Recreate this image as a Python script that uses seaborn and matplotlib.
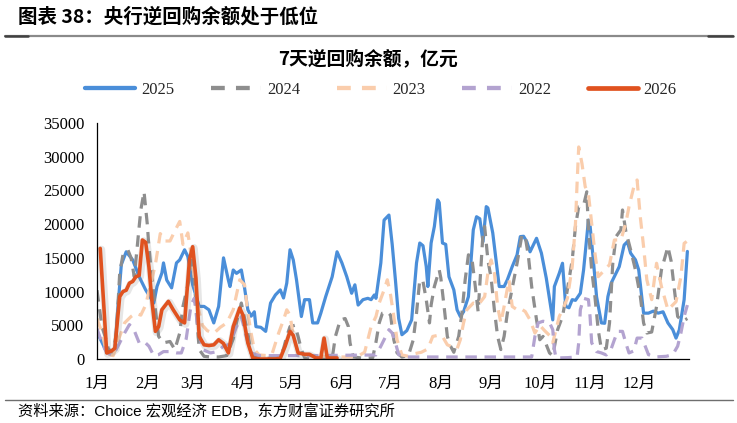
import numpy as np
import pandas as pd
import matplotlib
matplotlib.use("Agg")
import matplotlib.pyplot as plt
import matplotlib.patheffects as pe
from matplotlib.lines import Line2D
import seaborn as sns

sns.set_theme(style="white")
plt.rcParams['font.family'] = ['Liberation Serif', 'Noto Sans CJK SC', 'DejaVu Sans']

# ---------------- data (day of year, value in 亿元) ----------------
day_2025 = [0, 2, 5, 8, 11, 13, 15, 18, 22, 26, 30, 35, 37, 40, 41, 43, 46, 49, 51, 54, 56, 59, 63, 66, 69, 72,
            75, 78, 81, 82, 84, 86, 89, 91, 93, 95, 97, 98, 101, 104, 107, 110, 113, 115, 117, 119, 121, 123, 126,
            128, 131, 133, 136, 138, 141, 145, 148, 151, 154, 157, 159, 161, 164, 167, 169, 171, 172, 175, 177, 180,
            182, 184, 186, 188, 191, 194, 197, 199, 201, 203, 204, 206, 208, 210, 211, 213, 215, 217, 220, 222, 224,
            226, 229, 232, 234, 236, 238, 240, 241, 244, 246, 248, 251, 253, 256, 259, 261, 263, 265, 267, 271, 274,
            277, 281, 282, 285, 287, 289, 291, 293, 295, 298, 300, 303, 304, 306, 308, 311, 313, 315, 317, 320, 322,
            325, 327, 329, 332, 334, 337, 340, 343, 346, 349, 352, 355, 357, 359, 362, 364]
val_2025 = [4000, 3000, 1500, 900, 1200, 8000, 14000, 15900, 14700, 12200, 10250, 8300, 10750, 12750, 14250, 11700,
            10550, 14250, 14700, 16200, 15200, 11000, 7800, 7800, 7300, 5350, 7800, 15000, 11700, 10750, 13200, 12700,
            13200, 10500, 7300, 6350, 7000, 4800, 4700, 4100, 8300, 9500, 10250, 9050, 11250, 16200, 14700, 11750,
            6300, 8800, 8800, 5350, 5350, 6800, 9250, 12200, 15900, 14250, 12200, 9750, 11000, 8000, 8800, 9000, 8800,
            9500, 9000, 14250, 20600, 21350, 17000, 11700, 6000, 3600, 4200, 5800, 14250, 17200, 16800, 13700, 10750,
            17200, 19650, 23600, 23200, 17200, 17000, 12200, 10250, 7300, 6300, 7000, 9250, 19150, 21100, 20800, 17400,
            22600, 22400, 18700, 14700, 10750, 10750, 11750, 13700, 15450, 18150, 18200, 17400, 15900, 17900, 15700,
            12000, 5800, 10750, 12700, 14200, 7800, 7600, 8800, 8700, 9750, 13200, 20600, 19800, 14700, 9250, 5350,
            5300, 9250, 11250, 12700, 13700, 16900, 17400, 15700, 14700, 13200, 6800, 6800, 7100, 6800, 7000, 5350,
            4350, 3100, 4300, 8800, 15950]

day_2024 = [0, 3, 5, 7, 10, 12, 14, 16, 19, 21, 23, 25, 27, 29, 31, 32, 34, 36, 38, 41, 45, 48, 51, 53, 57, 59, 61,
            63, 66, 70, 75, 80, 84, 86, 89, 91, 93, 95, 98, 105, 112, 115, 117, 119, 122, 124, 126, 128, 135, 145,
            147, 150, 153, 155, 156, 158, 165, 170, 172, 174, 176, 179, 181, 183, 185, 188, 192, 195, 197, 199, 201,
            203, 205, 206, 208, 211, 212, 214, 216, 218, 220, 223, 225, 227, 229, 231, 233, 235, 238, 239, 241, 243,
            245, 247, 249, 251, 253, 256, 259, 262, 264, 266, 268, 271, 273, 275, 279, 281, 284, 287, 290, 293, 295,
            297, 300, 302, 303, 305, 307, 309, 311, 314, 316, 318, 320, 323, 324, 326, 329, 332, 335, 337, 339, 342,
            345, 348, 352, 354, 356, 358, 361, 364]
val_2024 = [10200, 4800, 3350, 1500, 900, 4000, 12750, 15450, 16200, 15000, 12200, 17150, 22100, 24800, 20000, 16650,
            11750, 7300, 3350, 2400, 2600, 1400, 3850, 7800, 12000, 15700, 8000, 1400, 400, 300, 300, 500, 3000, 5400,
            8300, 6000, 3850, 900, 200, 100, 100, 1500, 3350, 4800, 5000, 3350, 1400, 200, 100, 100, 3350, 5800, 6000,
            4800, 2400, 300, 100, 200, 2500, 5350, 6800, 7000, 6500, 2850, 900, 300, 500, 2850, 6800, 11750, 11500,
            8800, 5350, 8000, 10750, 13200, 12000, 7800, 3350, 1900, 1000, 3350, 6800, 11750, 15450, 15200, 11250,
            7000, 18650, 19650, 14700, 12000, 7300, 3350, 1400, 3350, 6800, 10500, 14200, 18400, 18200, 15200, 10750,
            5800, 2850, 3350, 900, 500, 4350, 6300, 10250, 14700, 19650, 22600, 22800, 24800, 19150, 13200, 9250, 4350,
            1400, 1600, 5350, 14200, 18150, 19150, 22100, 19000, 16200, 13200, 9250, 5350, 3850, 4000, 7800, 13200,
            16650, 14500, 10250, 6300, 5600, 6000]

day_2023 = [0, 3, 6, 10, 14, 17, 21, 24, 27, 30, 33, 36, 39, 42, 45, 48, 51, 53, 56, 59, 62, 65, 68, 72, 76, 80, 84,
            88, 91, 93, 95, 97, 100, 105, 108, 112, 115, 117, 119, 121, 124, 130, 140, 150, 160, 165, 169, 172, 174,
            177, 179, 181, 183, 185, 188, 192, 196, 200, 204, 207, 210, 213, 216, 219, 222, 224, 226, 228, 232, 235,
            239, 241, 243, 245, 247, 249, 251, 254, 256, 259, 261, 264, 267, 270, 273, 276, 279, 281, 283, 285, 288,
            290, 293, 295, 296, 297, 299, 301, 303, 305, 307, 309, 313, 316, 319, 323, 326, 328, 331, 333, 335, 337,
            339, 342, 345, 348, 352, 357, 360, 362, 364]
val_2023 = [6000, 4000, 800, 500, 3350, 5350, 6300, 6800, 6500, 8000, 11000, 14000, 18600, 17500, 17500, 19000, 20400,
            17000, 18700, 14000, 8000, 5000, 4200, 3800, 4700, 5350, 7300, 11750, 11000, 6800, 3850, 1400, 600, 500,
            800, 3850, 5800, 7300, 6500, 3500, 900, 500, 400, 300, 300, 1000, 4800, 6300, 8300, 10250, 11750, 9500,
            6300, 2850, 600, 400, 800, 1000, 1500, 3350, 3500, 3350, 2100, 1800, 1500, 2850, 5350, 7300, 8300, 8000,
            9250, 12750, 14700, 12750, 7800, 5350, 7800, 11750, 7800, 7300, 7500, 7050, 5800, 3850, 5000, 4200, 3500,
            2400, 4350, 6300, 7800, 9000, 13700, 20100, 26050, 31450, 29000, 25550, 24500, 20100, 15700, 12200, 13200,
            14000, 17650, 17650, 20100, 22600, 25550, 26550, 21000, 16650, 11750, 8800, 14200, 10750, 7300, 8500,
            12200, 17150, 17500]

day_2022 = [0, 3, 6, 10, 14, 17, 20, 23, 26, 29, 32, 35, 38, 41, 45, 49, 52, 55, 58, 60, 62, 65, 70, 74, 78, 82, 86,
            89, 90, 92, 95, 100, 130, 172, 175, 178, 180, 182, 184, 186, 190, 230, 268, 270, 272, 275, 279, 281, 282,
            283, 290, 296, 297, 298, 300, 303, 304, 305, 308, 311, 314, 317, 319, 321, 324, 326, 328, 331, 333, 336,
            338, 340, 344, 351, 355, 358, 360, 362, 364]
val_2022 = [4500, 2400, 900, 600, 2400, 3850, 5100, 4200, 2400, 2600, 1900, 500, 650, 1100, 1100, 900, 900, 3000, 8000,
            9000, 5000, 1400, 900, 1100, 1900, 2200, 4800, 6300, 5350, 3350, 900, 500, 500, 600, 1900, 3350, 4350, 3850,
            2400, 650, 300, 300, 300, 3350, 5350, 5600, 5400, 4350, 1400, 150, 200, 300, 2400, 7300, 9000, 8800, 6300,
            2400, 1100, 900, 600, 1500, 2850, 4100, 4100, 2400, 900, 1200, 3100, 3100, 1900, 650, 300, 400, 650, 1900,
            3850, 6300, 8000]

day_2026 = [2, 6, 9, 11, 14, 16, 18, 20, 22, 24, 26, 28, 30, 32, 34, 36, 38, 40, 44, 47, 51, 54, 57, 59, 61, 63, 66,
            69, 72, 75, 78, 81, 84, 88, 90, 93, 96, 100, 105, 110, 113, 116, 119, 121, 124, 128, 131, 135, 138, 140,
            142, 145, 148]
val_2026 = [16400, 900, 1200, 1600, 9250, 10000, 10200, 11250, 11500, 12200, 12400, 17650, 17300, 13700, 8300, 4100,
            4800, 7300, 8550, 7300, 5800, 5350, 14700, 16650, 12000, 3350, 2100, 2000, 2100, 2850, 2300, 900, 4800,
            7550, 6500, 2400, 150, 0, 0, 0, 100, 1900, 4100, 3500, 900, 700, 700, 150, 150, 3100, 150, 150, 150]

month_starts = [0, 31, 59, 90, 120, 151, 181, 212, 243, 273, 304, 334, 365]
month_labels = ['1月', '2月', '3月', '4月', '5月', '6月', '7月', '8月', '9月', '10月', '11月', '12月', '']
y_ticks = [0, 5000, 10000, 15000, 20000, 25000, 30000, 35000]

series = [
    ('2025', day_2025, val_2025, '#4A8ED9', 2.3, None),
    ('2024', day_2024, val_2024, '#8E8E8E', 2.3, (3.6, 2.4)),
    ('2023', day_2023, val_2023, '#FACDAC', 2.3, (3.6, 2.4)),
    ('2022', day_2022, val_2022, '#B3A3D0', 2.3, (3.6, 2.4)),
    ('2026', day_2026, val_2026, '#E0521F', 2.6, None),
]

W, H = 737, 423
fig = plt.figure(figsize=(W / 100, H / 100), dpi=100)
ax = fig.add_axes([97 / W, 1 - 359 / H, (689 - 97) / W, (359 - 123) / H])

handles = []
for name, d, v, col, lw, dash in series:
    df = pd.DataFrame({'day': d, 'val': v})
    sns.lineplot(data=df, x='day', y='val', ax=ax, color=col, linewidth=lw, legend=False)
    ln = ax.lines[-1]
    ln.set_solid_joinstyle('round')
    if dash is not None:
        ln.set_dashes(dash)
        ln.set_dash_capstyle('butt')
    if name == '2026':
        ln.set_path_effects([pe.SimpleLineShadow(offset=(0.8, -0.8), shadow_color='#777777', alpha=0.18, linewidth=5.5),
                             pe.Normal()])
    h = Line2D([], [], color=col, linewidth=lw + 0.8)
    if dash is not None:
        h.set_dashes((3.2, 2.6))
    handles.append((h, name))

ax.set_xlim(0, 365)
ax.set_ylim(0, 35000)
ax.set_xticks(month_starts)
ax.set_xticklabels(month_labels)
ax.set_yticks(y_ticks)
ax.set_yticklabels([str(t) for t in y_ticks])
ax.set_xlabel('')
ax.set_ylabel('')
for s in ['top', 'right']:
    ax.spines[s].set_visible(False)
for s in ['left', 'bottom']:
    ax.spines[s].set_color('black')
    ax.spines[s].set_linewidth(0.9)
ax.tick_params(axis='both', which='both', direction='out', length=4, width=0.9, color='black',
               labelsize=12, labelcolor='black')
ax.tick_params(axis='y', pad=5)
ax.tick_params(axis='x', pad=8)
for lab in ax.get_xticklabels() + ax.get_yticklabels():
    lab.set_fontfamily(['Liberation Serif', 'Noto Sans CJK SC'])
ax.grid(False)

leg = fig.legend([h for h, _ in handles], [n for _, n in handles], loc='center',
                 bbox_to_anchor=(381 / W, 1 - 90 / H), ncol=5, frameon=False,
                 handlelength=3.0, handletextpad=0.35, columnspacing=2.2,
                 prop={'family': 'Liberation Serif', 'size': 12})

# header
fig.text(18 / W, 1 - 17 / H, '图表 38：央行逆回购余额处于低位', fontsize=14, fontweight='bold',
         family=['Noto Sans CJK SC', 'DejaVu Sans'], ha='left', va='center', color='black')
fig.add_artist(Line2D([5 / W, 733 / W], [1 - 36 / H, 1 - 36 / H], color='#8A8A8A', linewidth=1.6,
                      transform=fig.transFigure))
fig.add_artist(Line2D([5 / W, 28 / W], [1 - 36 / H, 1 - 36 / H], color='#404040', linewidth=1.8,
                      transform=fig.transFigure))
fig.add_artist(Line2D([708 / W, 733 / W], [1 - 36 / H, 1 - 36 / H], color='#404040', linewidth=1.8,
                      transform=fig.transFigure))

# chart title
fig.text(368 / W, 1 - 59 / H, '7天逆回购余额，亿元', fontsize=13.5, fontweight='bold',
         family=['Noto Sans CJK SC', 'DejaVu Sans'], ha='center', va='center', color='black')

# footer
fig.add_artist(Line2D([5 / W, 733 / W], [1 - 400 / H, 1 - 400 / H], color='#6E6E6E', linewidth=1.0,
                      transform=fig.transFigure))
fig.text(18 / W, 1 - 411 / H, '资料来源：Choice 宏观经济 EDB，东方财富证券研究所', fontsize=11,
         family=['Liberation Sans', 'Noto Sans CJK SC'], ha='left', va='center', color='black')

fig.savefig('out.png', dpi=100, facecolor='white')
